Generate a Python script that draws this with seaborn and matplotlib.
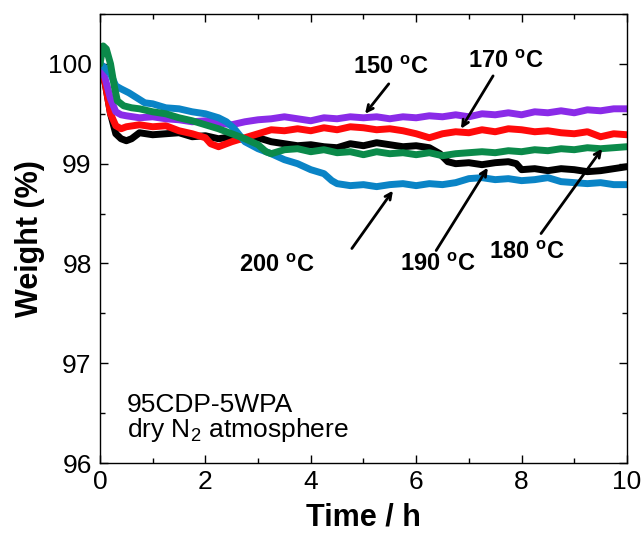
import numpy as np
import pandas as pd
import matplotlib
matplotlib.use("Agg")
import matplotlib.pyplot as plt
import seaborn as sns

# Isothermal TGA traces, weight (%) versus time (h)
t_150 = [0, 0.1, 0.2, 0.3, 0.4, 0.5, 0.75, 1.0, 1.25, 1.5, 1.75, 2.0, 2.25, 2.5, 2.75, 3.0,
         3.25, 3.5, 3.75, 4.0, 4.25, 4.5, 4.75, 5.0, 5.25, 5.5, 5.75, 6.0, 6.25, 6.5, 6.75,
         7.0, 7.25, 7.5, 7.75, 8.0, 8.25, 8.5, 8.75, 9.0, 9.25, 9.5, 9.75, 10.0]
w_150 = [100.0, 99.85, 99.65, 99.52, 99.49, 99.48, 99.46, 99.47, 99.45, 99.44, 99.42, 99.43,
         99.41, 99.39, 99.42, 99.44, 99.45, 99.47, 99.45, 99.43, 99.46, 99.45, 99.47, 99.46,
         99.47, 99.45, 99.47, 99.46, 99.48, 99.47, 99.49, 99.47, 99.50, 99.49, 99.51, 99.49,
         99.52, 99.51, 99.53, 99.51, 99.54, 99.53, 99.55, 99.55]

t_170 = [0, 0.1, 0.2, 0.3, 0.4, 0.5, 0.75, 1.0, 1.25, 1.5, 1.75, 2.0, 2.1, 2.25, 2.5, 2.75,
         3.0, 3.25, 3.5, 3.75, 4.0, 4.25, 4.5, 4.75, 5.0, 5.25, 5.5, 5.75, 6.0, 6.25, 6.5,
         6.75, 7.0, 7.25, 7.5, 7.75, 8.0, 8.25, 8.5, 8.75, 9.0, 9.25, 9.5, 9.75, 10.0]
w_170 = [100.0, 99.80, 99.50, 99.38, 99.35, 99.37, 99.39, 99.37, 99.38, 99.33, 99.30, 99.26,
         99.20, 99.17, 99.22, 99.26, 99.30, 99.34, 99.33, 99.35, 99.33, 99.36, 99.34, 99.37,
         99.36, 99.34, 99.35, 99.33, 99.30, 99.26, 99.30, 99.32, 99.31, 99.34, 99.32, 99.35,
         99.34, 99.32, 99.33, 99.31, 99.30, 99.32, 99.27, 99.30, 99.29]

t_180 = [0, 0.06, 0.12, 0.2, 0.27, 0.33, 0.45, 0.6, 0.75, 1.0, 1.25, 1.5, 1.75, 2.0, 2.25,
         2.5, 2.75, 3.0, 3.15, 3.25, 3.5, 3.75, 4.0, 4.25, 4.5, 4.75, 5.0, 5.25, 5.5, 5.75,
         6.0, 6.25, 6.5, 6.75, 7.0, 7.25, 7.5, 7.75, 8.0, 8.25, 8.5, 8.75, 9.0, 9.25, 9.5,
         9.75, 10.0]
w_180 = [100.0, 100.18, 100.15, 100.0, 99.78, 99.63, 99.58, 99.56, 99.55, 99.52, 99.50, 99.46,
         99.43, 99.39, 99.35, 99.30, 99.25, 99.19, 99.12, 99.10, 99.14, 99.15, 99.12, 99.14,
         99.11, 99.12, 99.09, 99.12, 99.10, 99.11, 99.09, 99.11, 99.08, 99.10, 99.11, 99.12,
         99.11, 99.13, 99.12, 99.14, 99.13, 99.15, 99.14, 99.16, 99.15, 99.16, 99.17]

t_190 = [0, 0.1, 0.2, 0.3, 0.4, 0.5, 0.6, 0.75, 1.0, 1.25, 1.5, 1.75, 2.0, 2.25, 2.5, 2.75,
         3.0, 3.25, 3.5, 3.75, 4.0, 4.25, 4.5, 4.75, 5.0, 5.25, 5.5, 5.75, 6.0, 6.25, 6.45,
         6.6, 6.75, 7.0, 7.25, 7.5, 7.75, 7.9, 8.0, 8.25, 8.5, 8.75, 9.0, 9.25, 9.5, 9.75, 10.0]
w_190 = [100.0, 99.80, 99.50, 99.30, 99.25, 99.23, 99.25, 99.31, 99.29, 99.30, 99.31, 99.27,
         99.28, 99.25, 99.27, 99.24, 99.26, 99.22, 99.20, 99.18, 99.19, 99.17, 99.16, 99.20,
         99.18, 99.21, 99.19, 99.17, 99.18, 99.16, 99.10, 99.02, 99.00, 99.01, 98.99, 99.01,
         99.02, 99.00, 98.94, 98.95, 98.93, 98.95, 98.94, 98.92, 98.93, 98.95, 98.97]

t_200 = [0, 0.1, 0.2, 0.3, 0.4, 0.55, 0.7, 0.85, 1.0, 1.25, 1.5, 1.75, 2.0, 2.25, 2.4, 2.55,
         2.75, 3.0, 3.25, 3.5, 3.75, 4.0, 4.25, 4.4, 4.5, 4.75, 5.0, 5.25, 5.5, 5.75, 6.0,
         6.25, 6.5, 6.75, 7.0, 7.25, 7.5, 7.75, 8.0, 8.25, 8.5, 8.75, 9.0, 9.25, 9.5, 9.75, 10.0]
w_200 = [100.0, 99.96, 99.90, 99.78, 99.75, 99.71, 99.66, 99.61, 99.60, 99.56, 99.55, 99.52,
         99.50, 99.46, 99.42, 99.35, 99.22, 99.15, 99.10, 99.04, 99.00, 98.94, 98.90, 98.83,
         98.80, 98.78, 98.79, 98.77, 98.79, 98.80, 98.78, 98.80, 98.79, 98.81, 98.85, 98.86,
         98.84, 98.85, 98.83, 98.84, 98.86, 98.82, 98.81, 98.80, 98.81, 98.79, 98.79]

temps = ["190", "170", "150", "200", "180"]
series = {"150": (t_150, w_150), "170": (t_170, w_170), "180": (t_180, w_180),
          "190": (t_190, w_190), "200": (t_200, w_200)}
colors = {"150": "#8a2be8", "170": "#ff0a0a", "180": "#0b8a4a",
          "190": "#000000", "200": "#0a84c6"}

frames = [pd.DataFrame({"time": series[k][0], "weight": series[k][1], "temp": k})
          for k in temps]
df = pd.concat(frames, ignore_index=True)

sns.set_style("ticks")
plt.rcParams["font.family"] = ["Liberation Sans", "DejaVu Sans"]
plt.rcParams["mathtext.fontset"] = "custom"
plt.rcParams["mathtext.rm"] = "Liberation Sans"
plt.rcParams["mathtext.bf"] = "Liberation Sans:bold"
for key in ["text.color", "axes.labelcolor", "xtick.color", "ytick.color",
            "axes.edgecolor"]:
    plt.rcParams[key] = "black"

fig = plt.figure(figsize=(6.43, 5.33), dpi=100)
ax = fig.add_axes([0.1555, 0.1313, 0.8195, 0.8424])

sns.lineplot(data=df, x="time", y="weight", hue="temp", hue_order=temps,
             palette=colors, linewidth=5.0, legend=False, ax=ax, sort=False)

ax.set_xlim(0, 10)
ax.set_ylim(96, 100.5)
ax.set_xticks(np.arange(0, 11, 2))
ax.set_xticks(np.arange(0, 11, 1), minor=True)
ax.set_yticks(np.arange(96, 101, 1))
ax.set_yticks(np.arange(96, 100.6, 0.5), minor=True)
ax.tick_params(which="both", direction="in", top=True, right=True, width=1.0,
               color="black", labelcolor="black", labelsize=19)
ax.tick_params(which="major", length=6)
ax.tick_params(which="minor", length=3.5)
ax.tick_params(axis="y", pad=6)
ax.tick_params(axis="x", pad=5)
for s in ax.spines.values():
    s.set_linewidth(1.0)
    s.set_color("black")

ax.set_xlabel("Time / h", fontsize=22, fontweight="bold", labelpad=6)
ax.set_ylabel("Weight (%)", fontsize=22, fontweight="bold", labelpad=2)

# Temperature labels with arrows
labels = [
    ("150", (5.52, 99.96), (5.48, 99.80), (5.03, 99.50)),
    ("170", (7.70, 100.02), (7.46, 99.88), (6.85, 99.35)),
    ("200", (3.36, 97.98), (4.78, 98.15), (5.56, 98.73)),
    ("190", (6.40, 97.99), (6.38, 98.13), (7.36, 98.96)),
    ("180", (8.10, 98.11), (8.37, 98.30), (9.53, 99.15)),
]
for temp, txy, start, tip in labels:
    ax.text(txy[0], txy[1], temp + r" $^{\mathbf{o}}$C", fontsize=17, fontweight="bold",
            ha="center", va="center")
    ax.annotate("", xy=tip, xytext=start,
                arrowprops=dict(arrowstyle="->,head_length=0.45,head_width=0.22",
                                color="black", lw=2.0, shrinkA=0, shrinkB=0))

ax.text(0.51, 96.51, "95CDP-5WPA", fontsize=19, ha="left", va="baseline")
ax.text(0.51, 96.26, r"dry N$_2$ atmosphere", fontsize=19, ha="left", va="baseline")

fig.savefig("out.png", dpi=100)
